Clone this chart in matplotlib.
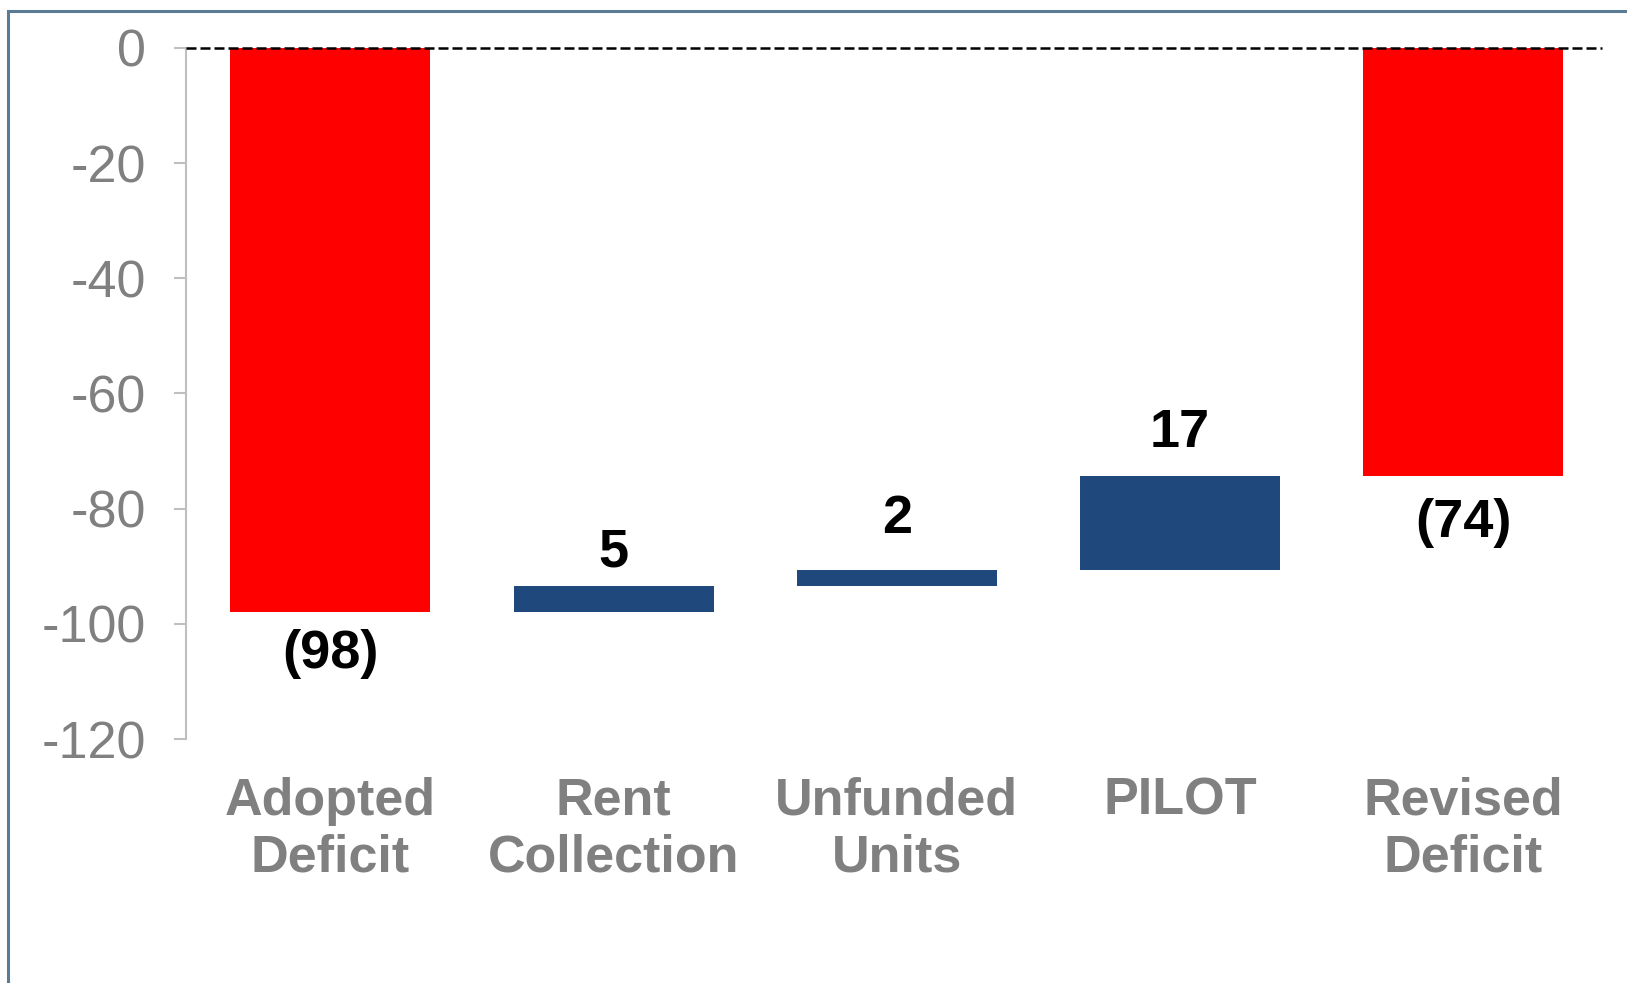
import matplotlib.pyplot as plt
from matplotlib.patches import Rectangle

# waterfall data
categories = ['Adopted\nDeficit', 'Rent\nCollection', 'Unfunded\nUnits', 'PILOT', 'Revised\nDeficit']
changes = [-98, 4.6, 2.8, 16.3, -74.3]
is_total = [True, False, False, False, True]
labels = ['(98)', '5', '2', '17', '(74)']
yticks = [0, -20, -40, -60, -80, -100, -120]

red = '#ff0000'
blue = '#1f497d'
grey = '#808080'

# bar bottoms / heights
bottoms = []
heights = []
running = 0
for val, tot in zip(changes, is_total):
    if tot:
        bottoms.append(0)
        heights.append(val)
        running = val
    else:
        bottoms.append(running)
        heights.append(val)
        running += val

fig = plt.figure(figsize=(16.27, 9.83), dpi=100)
ax = fig.add_axes([0.1143, 0.2482, 0.8703, 0.703])

x = list(range(len(categories)))
colors = [red if t else blue for t in is_total]
ax.bar(x, heights, bottom=bottoms, width=0.706, color=colors, zorder=2)

ax.set_xlim(-0.51, 4.49)
ax.set_ylim(-120, 0)
ax.axhline(0, color='black', linestyle=(0, (4, 1.6)), linewidth=1.8, zorder=3, clip_on=False)

# value labels (pixel offsets from bar end)
offsets = [-42, 33, 51, 43, -47]
for i in x:
    end = bottoms[i] + heights[i]
    ax.annotate(labels[i], (i, end), xytext=(0, offsets[i]), textcoords='offset pixels',
                ha='center', va='center', fontsize=39, fontweight='bold',
                family='Liberation Sans', color='black')

ax.set_yticks(yticks)
ax.set_yticklabels([str(t) for t in yticks], fontsize=37.5, color=grey, family='Liberation Sans')
ax.set_xticks(x)
ax.set_xticklabels(categories, fontsize=37.5, fontweight='bold', color=grey,
                   family='Liberation Sans', linespacing=1.2)
ax.tick_params(axis='x', length=0, pad=27)
ax.tick_params(axis='y', length=9, width=1.5, color='#bfbfbf', pad=20)

for s in ['top', 'right', 'bottom']:
    ax.spines[s].set_visible(False)
ax.spines['left'].set_color('#bfbfbf')
ax.spines['left'].set_linewidth(1.5)

# outer frame
fig.patches.append(Rectangle((8 / 1627, -0.05), 1.1, 1 - 11 / 983 + 0.05,
                             transform=fig.transFigure, fill=False,
                             edgecolor='#5b7b95', linewidth=2.2, zorder=0))

fig.savefig('out.png', dpi=100)
